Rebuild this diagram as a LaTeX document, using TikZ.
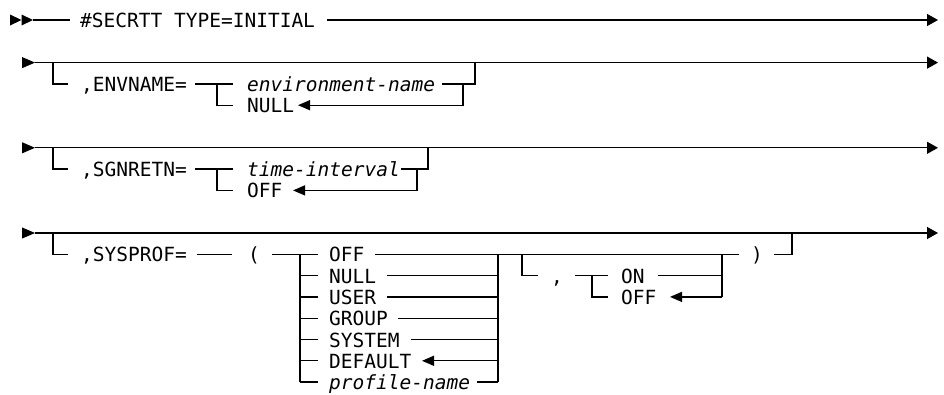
\documentclass[tikz,border=0pt]{standalone}
\usepackage{fontspec}
\newfontfamily\railfont{DejaVu Sans Mono}
\usetikzlibrary{arrows.meta}
\begin{document}
\begin{tikzpicture}[x=1pt,y=-1pt,
  rail/.style={line width=1.3pt,black},
  kw/.style={anchor=west,inner sep=0pt,text height=15pt,text depth=0pt,
    font=\railfont\fontsize{19.5}{22}\selectfont},
  var/.style={kw,font=\railfont\itshape\fontsize{19.5}{22}\selectfont},
  endarrow/.style={-{Triangle[length=11pt,width=12pt]}},
  backarrow/.style={-{Triangle[length=12pt,width=10pt]}},
  starttip/.style={fill=black},
]
\useasboundingbox (0,0) rectangle (944,394);

% ---------- statement head ----------
\fill[starttip] (10,14.5) -- (21.5,20) -- (10,25.5) -- cycle;
\fill[starttip] (21.5,14.5) -- (33,20) -- (21.5,25.5) -- cycle;
\coordinate (s1) at (33,20);
\coordinate (s1e) at (70,20);
\node[kw] (t1) at (80,20) {\#SECRTT TYPE=INITIAL};
\coordinate (b1) at (327,20);
\coordinate (z1) at (938,20);
\draw[rail] (s1) -- (s1e);
\draw[rail,endarrow] (b1) -- (z1);

% ---------- ,ENVNAME= ----------
\fill[starttip] (22,57) -- (35,62.6) -- (22,68.2) -- cycle;
\coordinate (s2) at (35,62.6);
\coordinate (z2) at (938,62.6);
\draw[rail,endarrow] (s2) -- (z2);
\coordinate (o2) at (53,62.6);
\coordinate (o2e) at (68,83.9);
\draw[rail] (o2) |- (o2e);
\node[kw] (k2) at (81,83.9) {,ENVNAME=};
\coordinate (c2s) at (195,83.9);
\coordinate (c2j) at (217,83.9);
\coordinate (c2e) at (233,83.9);
\coordinate (c2b) at (233,105.2);
\draw[rail] (c2s) -- (c2e);
\draw[rail] (c2j) |- (c2b);
\node[var] (v2) at (247,83.9) {environment-name};
\node[kw] (n2) at (247,105.2) {NULL};
\coordinate (d2s) at (442,83.9);
\coordinate (d2j) at (463,83.9);
\coordinate (d2e) at (475,83.9);
\coordinate (m2r) at (475,62.6);
\coordinate (n2t) at (298,105.2);
\draw[rail] (d2s) -- (d2e) -- (m2r);
\draw[rail,backarrow] (d2j) |- (n2t);

% ---------- ,SGNRETN= ----------
\fill[starttip] (22,142.2) -- (35,147.8) -- (22,153.4) -- cycle;
\coordinate (s3) at (35,147.8);
\coordinate (z3) at (938,147.8);
\draw[rail,endarrow] (s3) -- (z3);
\coordinate (o3) at (53,147.8);
\coordinate (o3e) at (68,169.1);
\draw[rail] (o3) |- (o3e);
\node[kw] (k3) at (81,169.1) {,SGNRETN=};
\coordinate (c3s) at (195,169.1);
\coordinate (c3j) at (217,169.1);
\coordinate (c3e) at (233,169.1);
\coordinate (c3b) at (233,190.4);
\draw[rail] (c3s) -- (c3e);
\draw[rail] (c3j) |- (c3b);
\node[var] (v3) at (247,169.1) {time-interval};
\node[kw] (n3) at (247,190.4) {OFF};
\coordinate (d3s) at (401,169.1);
\coordinate (d3j) at (417,169.1);
\coordinate (d3e) at (428,169.1);
\coordinate (m3r) at (428,147.8);
\coordinate (n3t) at (293,190.4);
\draw[rail] (d3s) -- (d3e) -- (m3r);
\draw[rail,backarrow] (d3j) |- (n3t);

% ---------- ,SYSPROF= ----------
\fill[starttip] (22,227.4) -- (35,233) -- (22,238.6) -- cycle;
\coordinate (s4) at (35,233);
\coordinate (z4) at (938,233);
\draw[rail,endarrow] (s4) -- (z4);
\coordinate (o4) at (53,233);
\coordinate (o4e) at (68,254.3);
\draw[rail] (o4) |- (o4e);
\node[kw] (k4) at (81,254.3) {,SYSPROF=};
\coordinate (p4s) at (197,254.3);
\coordinate (p4e) at (232,254.3);
\draw[rail] (p4s) -- (p4e);
\node[kw] (lp) at (248,254.3) {(};
\coordinate (q4s) at (272,254.3);
\coordinate (q4j) at (300,254.3);
\coordinate (q4e) at (318,254.3);
\draw[rail] (q4s) -- (q4e);

% choices of the first operand
\node[kw]  (a1) at (329,254.3) {OFF};
\node[kw]  (a2) at (329,275.6) {NULL};
\node[kw]  (a3) at (329,296.9) {USER};
\node[kw]  (a4) at (329,318.2) {GROUP};
\node[kw]  (a5) at (329,339.5) {SYSTEM};
\node[kw]  (a6) at (329,360.8) {DEFAULT};
\node[var] (a7) at (329,382.1) {profile-name};

\coordinate (q4b) at (300,382.1);
\draw[rail] (q4j) -- (q4b);
\foreach \n in {a2,a3,a4,a5,a6,a7}
  \draw[rail] (q4j |- \n.west) -- (q4e |- \n.west);

% right ends of the choices
\coordinate (f1) at (375,254.3);
\coordinate (f2) at (387,275.6);
\coordinate (f3) at (387,296.9);
\coordinate (f4) at (398,318.2);
\coordinate (f5) at (411,339.5);
\coordinate (f6) at (422,360.8);
\coordinate (f7) at (477,382.1);
\coordinate (r4t) at (498,254.3);
\coordinate (r4b) at (498,382.1);
\draw[rail] (r4t) -- (r4b);
\foreach \f in {f2,f3,f4,f5,f7}
  \draw[rail] (\f) -- (r4t |- \f);
\draw[rail,backarrow] (r4t |- f6) -- (f6);

% optional second operand
\coordinate (u4e) at (739,254.3);
\draw[rail] (f1) -- (u4e);
\coordinate (g4) at (522,254.3);
\coordinate (g4e) at (538,275.6);
\draw[rail] (g4) |- (g4e);
\node[kw] (cm) at (551,275.6) {,};
\coordinate (h4s) at (575,275.6);
\coordinate (h4j) at (592,275.6);
\coordinate (h4e) at (608,275.6);
\coordinate (h4b) at (608,296.9);
\draw[rail] (h4s) -- (h4e);
\draw[rail] (h4j) |- (h4b);
\node[kw] (on) at (621,275.6) {ON};
\node[kw] (of) at (621,296.9) {OFF};
\coordinate (ons) at (658,275.6);
\coordinate (oft) at (670,296.9);
\coordinate (w4t) at (722,254.3);
\coordinate (w4b) at (722,296.9);
\draw[rail] (ons) -- (w4t |- ons);
\draw[rail] (w4t) -- (w4b);
\draw[rail,backarrow] (w4b) -- (oft);

\node[kw] (rp) at (751,254.3) {)};
\coordinate (y4s) at (774,254.3);
\coordinate (y4e) at (792,254.3);
\coordinate (m4r) at (792,233);
\draw[rail] (y4s) -- (y4e) -- (m4r);
\end{tikzpicture}
\end{document}
